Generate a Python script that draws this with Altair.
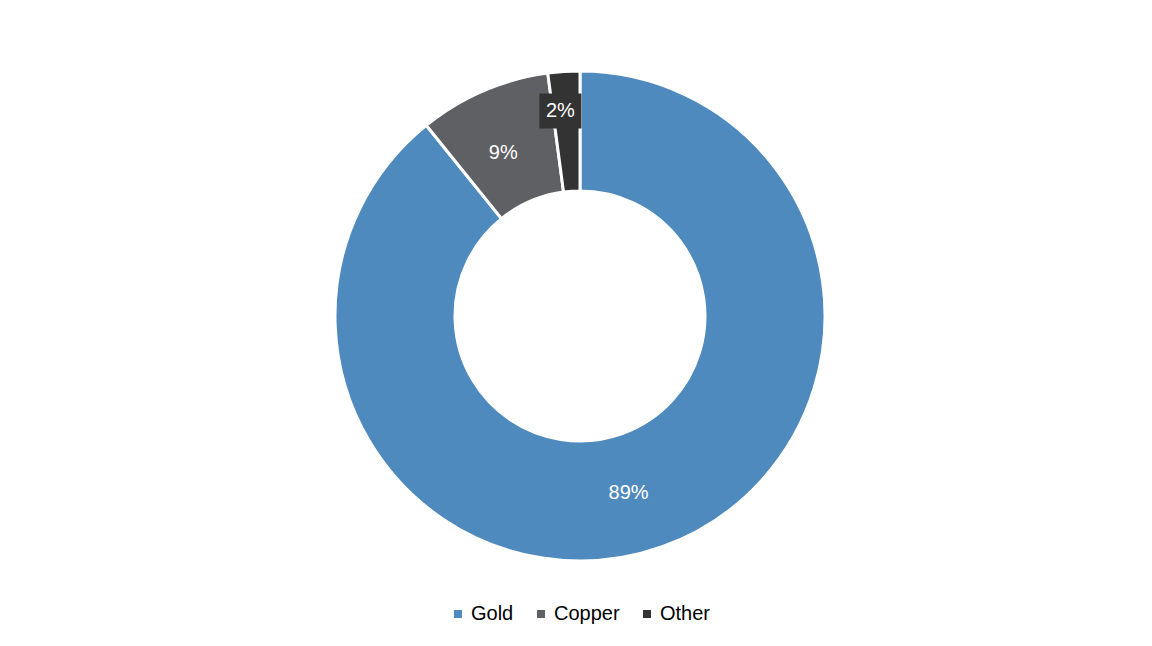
import altair as alt
import pandas as pd

cats = ["Gold", "Copper", "Other"]
values = [89.2, 8.7, 2.1]
labels = ["89%", "9%", "2%"]
order = [0, 1, 2]
colors = ["#4F8ABE", "#5F6063", "#333333"]

df = pd.DataFrame({"cat": cats, "value": values, "pct": labels, "idx": order})

FONT = "Liberation Sans"

base = alt.Chart(df)

arc = base.mark_arc(outerRadius=245, innerRadius=125, stroke="white", strokeWidth=3).encode(
    theta=alt.Theta("value:Q", stack=True),
    color=alt.Color(
        "cat:N",
        scale=alt.Scale(domain=cats, range=colors),
        legend=alt.Legend(
            title=None,
            orient="none",
            legendX=424,
            legendY=565,
            direction="horizontal",
            symbolType="square",
            symbolSize=64,
            symbolStrokeWidth=0,
            labelFont=FONT,
            labelFontSize=20,
            labelColor="#000000",
            labelOffset=3,
            columnPadding=17,
        ),
    ),
    order=alt.Order("idx:Q"),
)


def label_layer(cat, radius, dx, dy):
    return base.transform_calculate(
        lbl=f"datum.cat == '{cat}' ? datum.pct : ''"
    ).mark_text(radius=radius, dx=dx, dy=dy, font=FONT, fontSize=20, color="white").encode(
        theta=alt.Theta("value:Q", stack=True),
        order=alt.Order("idx:Q"),
        text="lbl:N",
    )


box = base.transform_window(
    cum="sum(value)", sort=[alt.SortField("idx")], frame=[None, 0]
).transform_joinaggregate(tot="sum(value)").transform_calculate(
    ang="2*PI*(datum.cum - datum.value/2)/datum.tot"
).transform_calculate(
    bx1="width/2 + 206*sin(datum.ang) - 27",
    bx2="width/2 + 206*sin(datum.ang) + 15",
    by1="height/2 - 206*cos(datum.ang) - 17",
    by2="height/2 - 206*cos(datum.ang) + 18",
).transform_filter("datum.cat == 'Other'").mark_rect(color="#333333").encode(
    x=alt.X("bx1:Q", scale=None),
    x2="bx2:Q",
    y=alt.Y("by1:Q", scale=None),
    y2="by2:Q",
)

chart = alt.layer(
    arc,
    label_layer("Gold", 182, -12, 5),
    label_layer("Copper", 182, -5, 4),
    box,
    label_layer("Other", 206, -6, 1),
).properties(
    width=1112,
    height=554,
    padding={"left": 16, "top": 31, "right": 0, "bottom": 0},
).configure_view(stroke=None)

chart.save("out.html", embed_options={"renderer": "svg", "actions": False})
